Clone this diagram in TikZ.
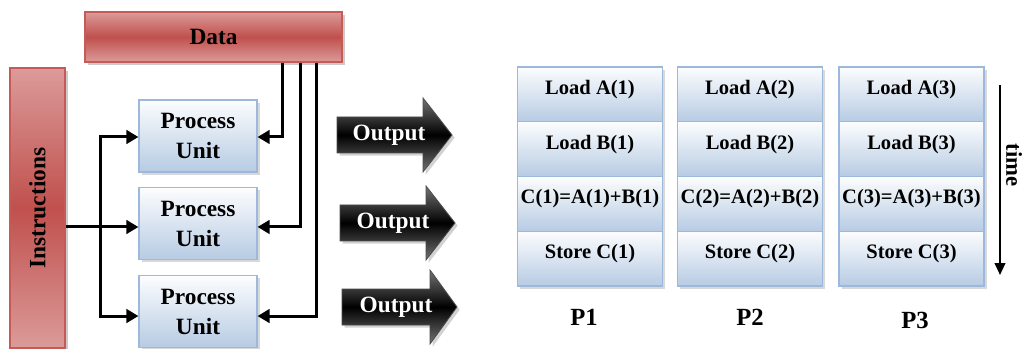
\documentclass[tikz,border=0pt]{standalone}
\usepackage{fontspec}
\setmainfont{Liberation Serif}
\usetikzlibrary{arrows.meta,shadows}
\definecolor{redmid}{HTML}{C0504D}
\definecolor{redlight}{HTML}{DB9B99}
\definecolor{redline}{HTML}{C65A57}
\definecolor{bluebot}{HTML}{B7CBE3}
\definecolor{bluetop}{HTML}{FCFDFE}
\definecolor{blueline}{HTML}{9CB8DA}
\begin{document}
\begin{tikzpicture}[x=0.75pt,y=-0.75pt,
  redbar/.style={draw=redline, line width=0.8pt,
    top color=redlight, bottom color=redlight, middle color=redmid,
    drop shadow={shadow xshift=2pt, shadow yshift=-2pt, fill=black!40},
    font=\fontsize{17.5}{21}\selectfont\bfseries, inner sep=0pt},
  unitbox/.style={draw=blueline, line width=0.8pt,
    top color=bluetop, bottom color=bluebot,
    drop shadow={shadow xshift=2pt, shadow yshift=-2pt, fill=black!30},
    minimum width=88.5pt, minimum height=54pt, align=center, inner sep=0pt,
    font=\fontsize{17.5}{22.5}\selectfont\bfseries},
  cell/.style={draw=blueline, line width=0.8pt,
    top color=bluetop, bottom color=bluebot,
    drop shadow={shadow xshift=2pt, shadow yshift=-2pt, fill=black!30},
    minimum width=108.75pt, minimum height=41.06pt, inner sep=0pt,
    text height=11pt, text depth=11pt,
    font=\fontsize{15.4}{18}\selectfont\bfseries},
  conn/.style={line width=2.25pt, -{Triangle[length=9pt,width=10pt]}},
  outshape/.style={draw=black!70, line width=0.6pt,
    top color=black!55, bottom color=black!55, middle color=black,
    drop shadow={shadow xshift=2pt, shadow yshift=-2pt, fill=black!35}},
  outtext/.style={text=white, font=\fontsize{17.5}{21}\selectfont\bfseries, inner sep=0pt},
  plabel/.style={font=\fontsize{18.5}{22}\selectfont\bfseries, inner sep=0pt},
]
\useasboundingbox (0,0) rectangle (1025,349);
\fill[white] (0,0) rectangle (1025,349);

% data and instruction sources
\node[redbar, minimum width=192.75pt, minimum height=37.5pt] (data) at (213.5,37) {Data};
\node[redbar, minimum width=41.25pt, minimum height=210pt] (instr) at (37.5,208)
  {\rotatebox{90}{Instructions}};

% process units
\node[unitbox] (pu1) at (198,136) {Process\\Unit};
\node[unitbox] (pu2) at (198,223.5) {Process\\Unit};
\node[unitbox] (pu3) at (198,311.5) {Process\\Unit};

% data lines
\path (data.south) ++(68.5,0) coordinate (d1);
\path (data.south) ++(86.5,0) coordinate (d2);
\path (data.south) ++(102.5,0) coordinate (d3);
\draw[conn] (d1) |- ([yshift=-0.75pt]pu1.east);
\draw[conn] (d2) |- ([yshift=-2.6pt]pu2.east);
\draw[conn] (d3) |- ([yshift=-3.4pt]pu3.east);

% instruction lines
\coordinate (ib) at (100,227);
\draw[conn] (instr.east |- ib) -- (ib -| pu2.west);
\draw[conn] (ib) |- ([yshift=-0.75pt]pu1.west);
\draw[conn] (ib) |- ([yshift=-3.4pt]pu3.west);

% output arrows
\shade[outshape] (337,117) -- (423,117) -- (423,98) -- (452,135) -- (423,172) -- (423,153) -- (337,153) -- cycle;
\node[outtext] (out1) at (389,135) {Output};
\shade[outshape] (340,205) -- (426,205) -- (426,186) -- (455,223) -- (426,260) -- (426,241) -- (340,241) -- cycle;
\node[outtext] (out2) at (393,223) {Output};
\shade[outshape] (342,289) -- (430,289) -- (430,270) -- (457,307) -- (430,344) -- (430,325) -- (342,325) -- cycle;
\node[outtext] (out3) at (396,307) {Output};

% per-processor instruction streams
\foreach \c/\x in {1/590,2/750,3/911.5}{
  \node[cell] (la\c) at (\x,94.4)  {Load A(\c)};
  \node[cell] (lb\c) at (\x,149.1) {Load B(\c)};
  \node[cell] (ad\c) at (\x,203.9) {C(\c)=A(\c)+B(\c)};
  \node[cell] (st\c) at (\x,258.6) {Store C(\c)};
}
\node[plabel] (p1) at (584,317) {P1};
\node[plabel] (p2) at (750,317) {P2};
\node[plabel] (p3) at (915,320) {P3};

% time axis
\coordinate (t0) at (1000,85);
\coordinate (t1) at (1000,275);
\draw[line width=1.5pt, -{Triangle[length=9pt,width=8pt]}] (t0) -- (t1);
\node[rotate=-90, font=\fontsize{17}{20}\selectfont\bfseries, inner sep=0pt] (time) at (1014,165) {time};
\end{tikzpicture}
\end{document}
